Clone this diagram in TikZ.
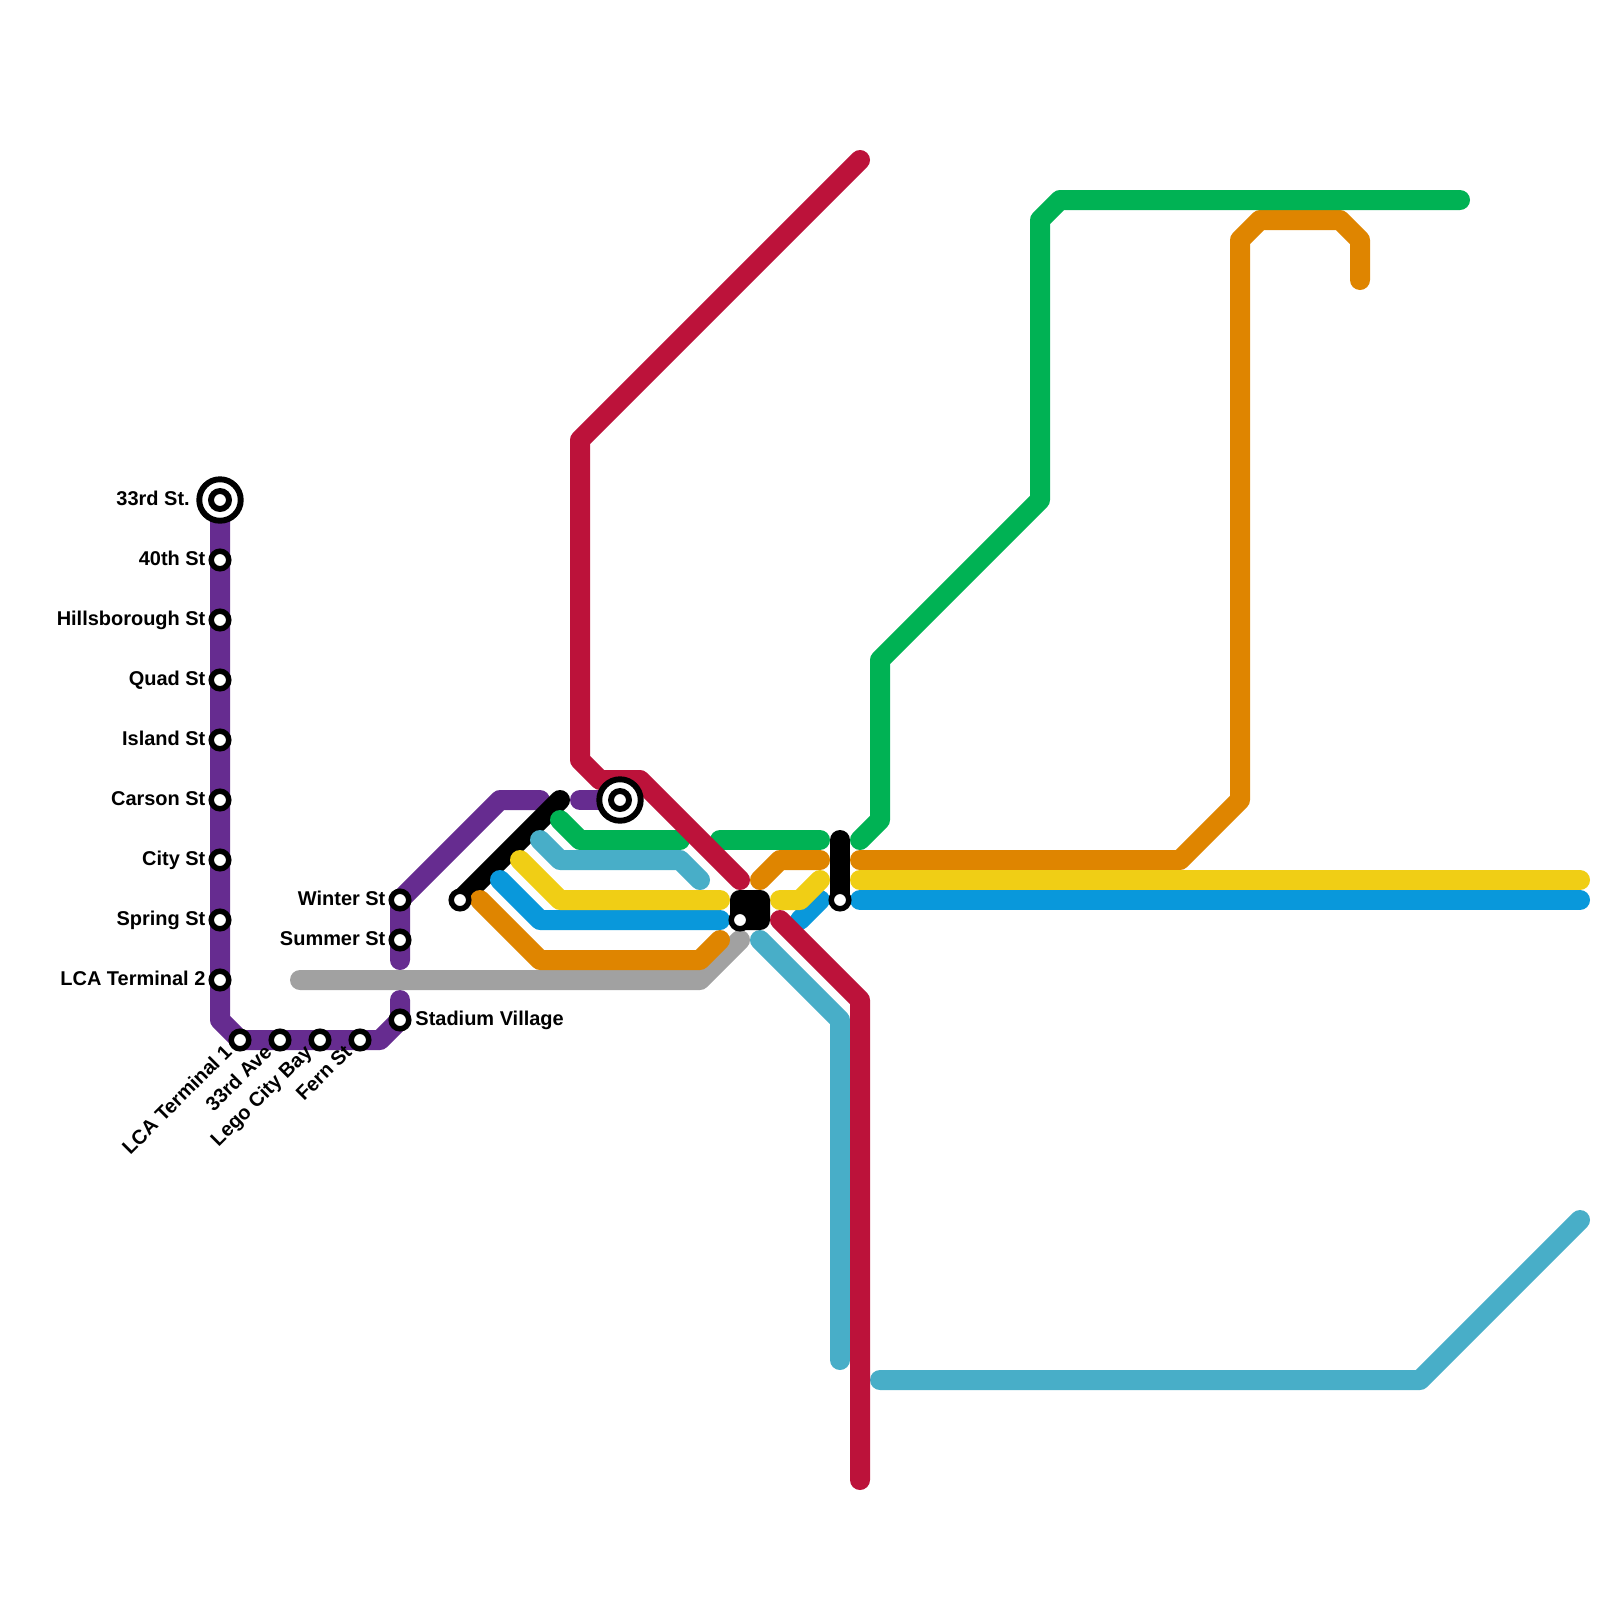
\documentclass[tikz,border=0pt]{standalone}
\usepackage{fontspec}
\setmainfont{Liberation Sans}
\usepackage{xcolor}
\usepackage{tikz}
\usetikzlibrary{positioning}
\definecolor{mypurple}{RGB}{102,44,144}
\definecolor{myred}{RGB}{188,18,58}
\definecolor{mygreen}{RGB}{0,178,84}
\definecolor{myteal}{RGB}{72,174,200}
\definecolor{myyellow}{RGB}{240,206,21}
\definecolor{myblue}{RGB}{9,152,219}
\definecolor{myorange}{RGB}{223,133,0}
\definecolor{mygray}{RGB}{161,161,161}
\tikzset{
  track/.style={line width=14.226pt, line cap=round, line join=round},
  purpleline/.style={track, color=mypurple},
  redline/.style={track, color=myred},
  greenline/.style={track, color=mygreen},
  tealline/.style={track, color=myteal},
  yellowline/.style={track, color=myyellow},
  blueline/.style={track, color=myblue},
  orangeline/.style={track, color=myorange},
  grayline/.style={track, color=mygray},
  blackline/.style={track, color=black},
  stop/.style={circle, draw=black, fill=white, line width=3.9pt, minimum size=12.5pt, inner sep=0pt},
  hub/.style={circle, draw=black, fill=white, line width=4.2pt, minimum size=29.5pt, inner sep=0pt},
  hubcore/.style={circle, draw=black, fill=white, line width=4.2pt, minimum size=12.8pt, inner sep=0pt},
  transfer/.style={rectangle, fill=black, rounded corners=7pt, minimum size=28.45pt, inner sep=0pt},
  stoplabel/.style={font=\bfseries\fontsize{14.2}{16}\selectfont, inner sep=0pt, text=black, text height=10.2pt, text depth=0pt, yshift=1.4pt},
  turned/.style={stoplabel, rotate=45, anchor=east}
}
\begin{document}
\begin{tikzpicture}[x=0.5cm, y=-0.5cm]
  \useasboundingbox (0,0) rectangle (80,80);

  % Lines
  \draw[purpleline] (11,25) -- (11,51) -- (12,52) -- (19,52) -- (20,51) -- (20,50);
  \draw[purpleline] (20,48) -- (20,45) -- (25,40) -- (27,40);
  \draw[purpleline] (29,40) -- (31,40);
  \draw[grayline] (15,49) -- (35,49) -- (37,47);
  \draw[blackline] (23,45) -- (28,40);
  \draw[blackline] (42,42) -- (42,45);
  \draw[orangeline] (24,45) -- (27,48) -- (35,48) -- (36,47);
  \draw[orangeline] (38,44) -- (39,43) -- (41,43);
  \draw[orangeline] (43,43) -- (59,43) -- (62,40) -- (62,12) -- (63,11) -- (67,11) -- (68,12) -- (68,14);
  \draw[greenline] (28,41) -- (29,42) -- (34,42);
  \draw[greenline] (36,42) -- (41,42);
  \draw[greenline] (43,42) -- (44,41) -- (44,33) -- (52,25) -- (52,11) -- (53,10) -- (73,10);
  \draw[tealline] (27,42) -- (28,43) -- (34,43) -- (35,44);
  \draw[tealline] (38,47) -- (42,51) -- (42,68);
  \draw[tealline] (44,69) -- (71,69) -- (79,61);
  \draw[blueline] (25,44) -- (27,46) -- (36,46);
  \draw[blueline] (40,46) -- (41,45);
  \draw[blueline] (43,45) -- (79,45);
  \draw[yellowline] (26,43) -- (28,45) -- (36,45);
  \draw[yellowline] (39,45) -- (40,45) -- (41,44);
  \draw[yellowline] (43,44) -- (79,44);
  \draw[redline] (43,8) -- (29,22) -- (29,38) -- (30,39) -- (32,39) -- (37,44);
  \draw[redline] (39,46) -- (43,50) -- (43,74);
  \node[transfer] (junction) at (37.5,45.5) {};

  % Stations on the long branch
  \node[hub] (thirtythird) at (11,25) {};
  \node[hubcore] at (thirtythird) {};
  \node[stop] (fortieth) at (11,28) {};
  \node[stop] (hillsborough) at (11,31) {};
  \node[stop] (quad) at (11,34) {};
  \node[stop] (island) at (11,37) {};
  \node[stop] (carson) at (11,40) {};
  \node[stop] (city) at (11,43) {};
  \node[stop] (spring) at (11,46) {};
  \node[stop] (terminaltwo) at (11,49) {};
  \node[stop] (terminalone) at (12,52) {};
  \node[stop] (ave) at (14,52) {};
  \node[stop] (lego) at (16,52) {};
  \node[stop] (fern) at (18,52) {};
  \node[stop] (stadium) at (20,51) {};
  \node[stop] (summer) at (20,47) {};
  \node[stop] (winter) at (20,45) {};

  % Other stations
  \node[stop] (westend) at (23,45) {};
  \node[hub] (centre) at (31,40) {};
  \node[hubcore] at (centre) {};
  \node[stop] (junctionstop) at (37,46) {};
  \node[stop] (eastend) at (42,45) {};

  % Labels
  \node[stoplabel, anchor=east] at (9.5,25) {33rd St.};
  \node[stoplabel, left=2pt of fortieth] {40th St};
  \node[stoplabel, left=2pt of hillsborough] {Hillsborough St};
  \node[stoplabel, left=2pt of quad] {Quad St};
  \node[stoplabel, left=2pt of island] {Island St};
  \node[stoplabel, left=2pt of carson] {Carson St};
  \node[stoplabel, left=2pt of city] {City St};
  \node[stoplabel, left=2pt of spring] {Spring St};
  \node[stoplabel, left=2pt of terminaltwo] {LCA Terminal 2};
  \node[stoplabel, left=2pt of winter] {Winter St};
  \node[stoplabel, left=2pt of summer] {Summer St};
  \node[stoplabel, right=2.6pt of stadium] {Stadium Village};
  \node[turned] at (11.4,52.5) {LCA Terminal 1};
  \node[turned] at (13.4,52.5) {33rd Ave};
  \node[turned] at (15.4,52.5) {Lego City Bay};
  \node[turned] at (17.4,52.5) {Fern St};
\end{tikzpicture}
\end{document}
